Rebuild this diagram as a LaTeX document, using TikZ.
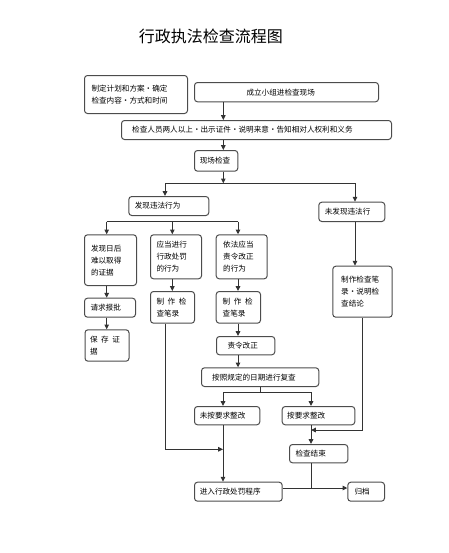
\documentclass[tikz,border=0pt]{standalone}
\usepackage{fontspec}
\newfontfamily\cjk{Noto Sans CJK SC}
\usetikzlibrary{arrows.meta}
\newcommand\boxfont{\cjk\fontsize{5.7}{9}\selectfont}
\newcommand\titlefont{\cjk\fontsize{12}{14}\selectfont}
\newcommand\ksp{\hspace{0.47em}}

\tikzset{every picture/.style={line width=0.75pt}}
\tikzset{
  stepbox/.style={draw=black!70, rounded corners=2.25pt, anchor=north west, align=left, inner ysep=0pt, font=\boxfont},
  boxsize/.style n args={3}{minimum width=#1*0.75pt, minimum height=#2*0.75pt, inner xsep=#3*0.75pt, text width=(#1-2*#3)*0.75pt},
  link/.style={draw=black!80, -{Triangle[length=3.6pt,width=3.4pt]}},
  wire/.style={draw=black!80},
}

\begin{document}
\begin{tikzpicture}[x=0.75pt,y=0.75pt,yscale=-1,xscale=1]
\useasboundingbox (0,0) rectangle (449,553);

% Text Node
\node [font=\titlefont] (title) at (210.8,36.7) {行政执法检查流程图};

%Shape: Rounded Rect
\node [stepbox, boxsize={103}{38}{7}] (plan) at (84,75) {制定计划和方案・确定\\检查内容・方式和时间};
\node [stepbox, boxsize={184}{19.3}{52}] (cl) at (194,82) {成立小组进检查现场};
\node [stepbox, boxsize={270}{19}{10.7}] (jc) at (121,120) {检查人员两人以上・出示证件・说明来意・告知相对人权利和义务};
\node [stepbox, boxsize={43.3}{20.7}{5.3}] (xc) at (194,150) {现场检查};
\node [stepbox, boxsize={80}{19}{6}] (fx) at (128.3,196) {发现违法行为};
\node [stepbox, boxsize={66}{19.3}{6}] (wf) at (318.3,201.7) {未发现违法行};
%Shape: Rounded Rect, third row
\node [stepbox, boxsize={52}{50.7}{6.5}] (za) at (84,234.3) {发现日后\\难以取得\\的证据};
\node [stepbox, boxsize={51}{44}{6}] (zb) at (150,234.3) {应当进行\\行政处罚\\的行为};
\node [stepbox, boxsize={51}{44}{7}] (zc) at (215.7,234.3) {依法应当\\责令改正\\的行为};
\node [stepbox, boxsize={59.4}{51}{8.4}] (zd) at (332.3,265.7) {制作检查笔\\录・说明检\\查结论};
\node [stepbox, boxsize={51}{19}{6}] (qq) at (84,297.7) {请求报批};
\node [stepbox, boxsize={44}{31.4}{5}] (bc) at (84.5,329.3) {保\ksp 存\ksp 证\\据};
\node [stepbox, boxsize={44}{31.7}{6}] (bb) at (150,291) {制\ksp 作\ksp 检\\查笔录};
\node [stepbox, boxsize={44.3}{31.7}{6.5}] (bd) at (215.7,291) {制\ksp 作\ksp 检\\查笔录};
%Shape: Rounded Rect, lower part
\node [stepbox, boxsize={58.3}{18.3}{11}] (zl) at (216,336) {责令改正};
\node [stepbox, boxsize={117.3}{18.7}{10.7}] (aq) at (201,367.3) {按照规定的日期进行复查};
\node [stepbox, boxsize={65.3}{18.3}{5.3}] (wa) at (194,406) {未按要求整改};
\node [stepbox, boxsize={72.6}{18.3}{5}] (ay) at (281.7,406) {按要求整改};
\node [stepbox, boxsize={58.3}{18.3}{6}] (js) at (289,444) {检查结束};
\node [stepbox, boxsize={87.7}{19}{5.3}] (jr) at (194,481.7) {进入行政处罚程序};
\node [stepbox, boxsize={36.7}{19}{6.7}] (gd) at (347.3,481.7) {归档};

% junction points
\coordinate (ta) at (223.3,183.3);
\coordinate (b1) at (165,183.3);
\coordinate (b2) at (355,183.3);
\coordinate (c1) at (106.7,221.7);
\coordinate (c2) at (172.3,221.7);
\coordinate (c3) at (238,221.7);
\coordinate (d0) at (260,392.3);
\coordinate (d1) at (223,392.3);
\coordinate (d2) at (311,392.3);
\coordinate (e1) at (362.5,430);
\coordinate (f1) at (165,449.3);
\coordinate (g1) at (311,488);

%Straight Lines
\draw [link] (cl.south -| ta) -- (jc.north -| ta);
\draw [link] (jc.south -| ta) -- (xc.north -| ta);
\draw [link] (xc.south -| ta) -- (ta);
\draw [wire] (b1) -- (b2);
\draw [link] (b1) -- (b1 |- fx.north);
\draw [link] (b2) -- (b2 |- wf.north);
%Straight Lines
\draw [wire] (c1) -- (c3);
\draw [link] (c1) -- (c1 |- za.north);
\draw [link] (c2) -- (c2 |- zb.north);
\draw [link] (c3) -- (c3 |- zc.north);
\draw [link] (za.south -| c1) -- (qq.north -| c1);
\draw [link] (qq.south -| c1) -- (bc.north -| c1);
\draw [link] (zb.south -| c2) -- (bb.north -| c2);
\draw [link] (zc.south -| c3) -- (bd.north -| c3);
\draw [link] (bd.south -| c3) -- (zl.north -| c3);
\draw [link] (zl.south -| c3) -- (aq.north -| c3);
\draw [link] (wf.south -| b2) -- (zd.north -| b2);
%Straight Lines
\draw [wire] (aq.south -| d0) -- (d0);
\draw [wire] (d1) -- (d2);
\draw [link] (d1) -- (d1 |- wa.north);
\draw [link] (d2) -- (d2 |- ay.north);
\draw [link] (zd.south -| e1) -- (e1) -- (e1 -| d2);
\draw [link] (ay.south -| d2) -- (js.north -| d2);
\draw [link] (bb.south -| f1) -- (f1) -- (f1 -| d1);
\draw [link] (wa.south -| d1) -- (jr.north -| d1);
\draw [wire] (js.south -| g1) -- (g1);
\draw [link] (jr.east |- g1) -- (gd.west |- g1);

\end{tikzpicture}
\end{document}
